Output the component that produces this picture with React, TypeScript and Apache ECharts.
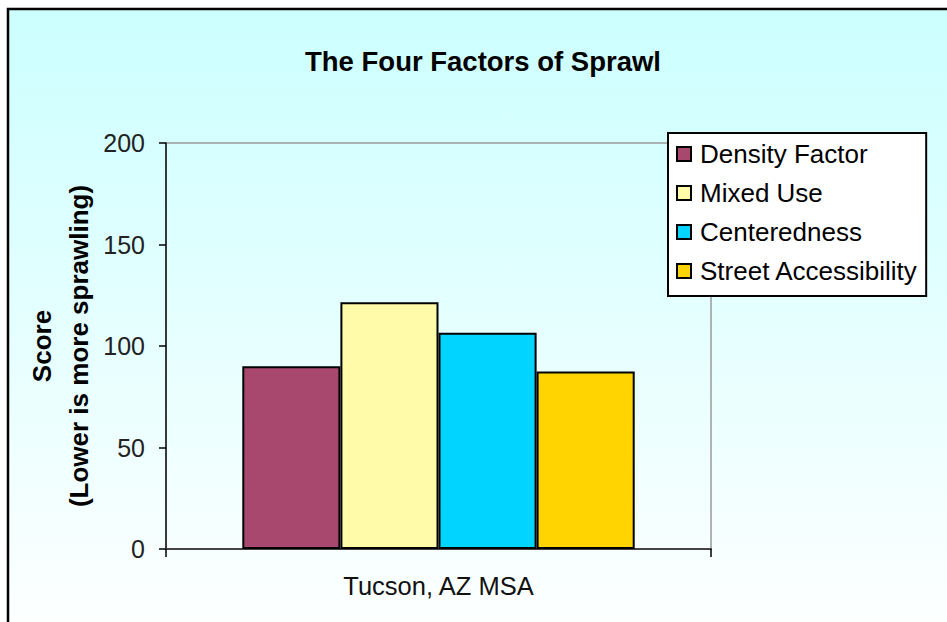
import React, { useEffect, useRef } from "react";
import * as echarts from "echarts";

const categories = ["Tucson, AZ MSA"];
const seriesNames = ["Density Factor", "Mixed Use", "Centeredness", "Street Accessibility"];
const densityFactor = [90];
const mixedUse = [121.5];
const centeredness = [106.5];
const streetAccessibility = [87.5];
const seriesColors = ["#A8486F", "#FFFBA8", "#00D4FF", "#FFD400"];
const yTicks = { min: 0, max: 200, interval: 50 };

const FONT = "Arial, 'Liberation Sans', sans-serif";

export default function App() {
  const ref = useRef<HTMLDivElement>(null);
  useEffect(() => {
    if (!ref.current) return;
    const chart = echarts.init(ref.current, undefined, { renderer: "svg" });
    const values = [densityFactor, mixedUse, centeredness, streetAccessibility];
    chart.setOption({
      animation: false,
      backgroundColor: "transparent",
      graphic: [
        {
          type: "rect",
          z: -100,
          silent: true,
          shape: { x: 8, y: 9, width: 960, height: 640 },
          style: {
            fill: new echarts.graphic.LinearGradient(0, 0, 0, 1, [
              { offset: 0, color: "#CCFFFF" },
              { offset: 1, color: "#FFFFFF" },
            ]),
            stroke: "#000",
            lineWidth: 2.5,
          },
        },
      ],
      title: {
        text: "The Four Factors of Sprawl",
        left: 478,
        top: 42,
        textAlign: "center",
        textStyle: { fontFamily: FONT, fontWeight: "bold", fontSize: 27.5, color: "#000" },
      },
      legend: {
        orient: "vertical",
        left: 668,
        top: 133,
        padding: [8, 8, 12, 8],
        itemGap: 13,
        itemWidth: 14,
        itemHeight: 14,
        icon: "rect",
        backgroundColor: "#FFFFFF",
        borderColor: "#000",
        borderWidth: 2,
        borderRadius: 0,
        textStyle: { fontFamily: FONT, fontSize: 26, color: "#000", padding: [0, 0, 0, 4] },
        data: seriesNames,
      },
      grid: {
        left: 166,
        top: 143,
        right: 236,
        bottom: 73,
        show: true,
        borderColor: "#9A9A9A",
        borderWidth: 1.5,
        backgroundColor: "transparent",
      },
      xAxis: {
        type: "category",
        data: categories,
        axisLine: { lineStyle: { color: "#444", width: 2 } },
        axisTick: { show: true, length: 8, lineStyle: { color: "#000", width: 1.5 } },
        axisLabel: { fontFamily: FONT, fontSize: 25.5, color: "#111", margin: 24 },
        splitLine: { show: false },
      },
      yAxis: {
        type: "value",
        min: yTicks.min,
        max: yTicks.max,
        interval: yTicks.interval,
        name: "Score\n(Lower is more sprawling)",
        nameLocation: "middle",
        nameRotate: 90,
        nameGap: 69,
        nameMoveOverlap: false,
        nameTextStyle: { fontFamily: FONT, fontWeight: "bold", fontSize: 26, lineHeight: 37, color: "#000" },
        axisLine: { show: true, lineStyle: { color: "#111", width: 1.5 } },
        axisTick: { show: true, length: 7, lineStyle: { color: "#000", width: 1.5 } },
        axisLabel: { fontFamily: FONT, fontSize: 25, color: "#222", margin: 21 },
        splitLine: { show: false },
      },
      series: seriesNames.map((name, i) => ({
        name,
        type: "bar",
        data: values[i],
        barGap: "0%",
        barCategoryGap: "28%",
        itemStyle: { color: seriesColors[i], borderColor: "#000", borderWidth: 2 },
      })),
    });
    return () => chart.dispose();
  }, []);
  return (
    <div
      ref={ref}
      style={{ position: "absolute", left: 0, top: 0, width: 947, height: 622 }}
    />
  );
}
